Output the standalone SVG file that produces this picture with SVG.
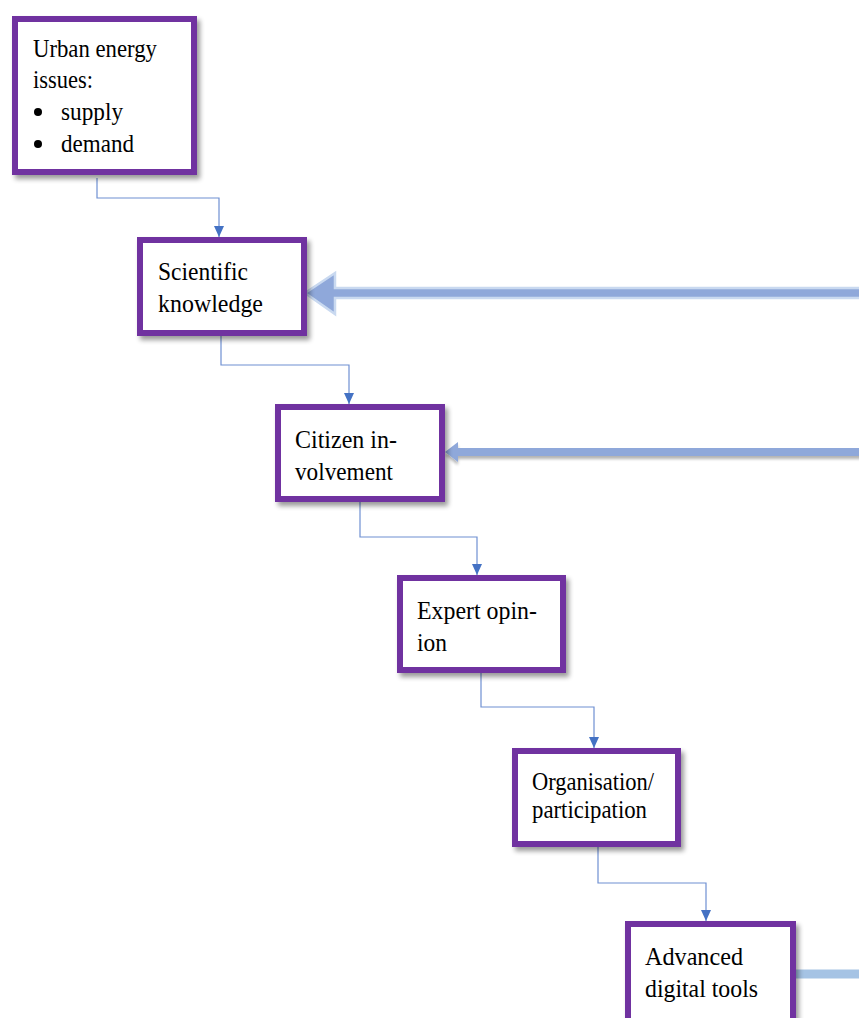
<svg xmlns="http://www.w3.org/2000/svg" width="859" height="1018" viewBox="0 0 859 1018">
<style>
.box{fill:#ffffff;stroke:#7030A0;stroke-width:6;filter:url(#sh)}
.t{font-family:"Liberation Serif","Times New Roman",Times,serif;font-size:26px;fill:#000}
.c{fill:none;stroke:#6F90D2;stroke-width:1.2;marker-end:url(#ah)}
.big{fill:#8FA8DA}
</style>
<defs>
<filter id="sh" x="-10%" y="-10%" width="130%" height="130%">
<feGaussianBlur in="SourceAlpha" stdDeviation="2.5"/>
<feOffset dx="3" dy="4" result="b"/>
<feComponentTransfer><feFuncA type="linear" slope="0.4"/></feComponentTransfer>
<feMerge><feMergeNode/><feMergeNode in="SourceGraphic"/></feMerge>
</filter>
<filter id="sh2" x="-5%" y="-50%" width="110%" height="250%">
<feGaussianBlur in="SourceAlpha" stdDeviation="1.5"/>
<feOffset dx="0" dy="3" result="b"/>
<feComponentTransfer><feFuncA type="linear" slope="0.3"/></feComponentTransfer>
<feMerge><feMergeNode/><feMergeNode in="SourceGraphic"/></feMerge>
</filter>
<marker id="ah" markerUnits="userSpaceOnUse" markerWidth="12" markerHeight="12" viewBox="0 0 12 12" refX="11" refY="6" orient="auto">
<path d="M0,1 L11,6 L0,11 Z" fill="#4472C4"/>
</marker>
</defs>

<g id="connectors">
<path class="c" d="M97 178 V198 H219 V237"/>
<path class="c" d="M221 336 V365 H349 V404"/>
<path class="c" d="M360 502 V537 H477 V575"/>
<path class="c" d="M481 673 V707 H594 V748"/>
<path class="c" d="M598 847 V883 H706 V921"/>
<g id="arrow-science">
<path d="M305 293 L335 273 L335 288 L862 288 L862 298 L335 298 L335 314 Z" class="big" stroke="#C9D9F0" stroke-width="2.5" stroke-linejoin="miter"/>
</g>
<g id="arrow-citizen" filter="url(#sh2)">
<path d="M445 452 L458 442 L458 448 L862 448 L862 456 L458 456 L458 462 Z" class="big"/>
</g>
<rect id="arrow-digital" x="796" y="969.5" width="66" height="9" fill="#A5C3E4"/>
</g>

<g id="n1">
<rect class="box" x="15" y="19" width="179" height="153"/>
<text class="t"><tspan x="33" y="57" textLength="124" lengthAdjust="spacingAndGlyphs">Urban energy</tspan><tspan x="33" y="88" textLength="60" lengthAdjust="spacingAndGlyphs">issues:</tspan><tspan x="61" y="120" textLength="62" lengthAdjust="spacingAndGlyphs">supply</tspan><tspan x="61" y="152" textLength="73" lengthAdjust="spacingAndGlyphs">demand</tspan></text>
<circle cx="38" cy="112" r="4" fill="#000"/>
<circle cx="38" cy="144" r="4" fill="#000"/>
</g>

<g id="n2">
<rect class="box" x="140" y="240" width="164" height="93"/>
<text class="t"><tspan x="158" y="280" textLength="90" lengthAdjust="spacingAndGlyphs">Scientific</tspan><tspan x="158" y="312" textLength="105" lengthAdjust="spacingAndGlyphs">knowledge</tspan></text>
</g>

<g id="n3">
<rect class="box" x="278" y="407" width="164" height="92"/>
<text class="t"><tspan x="295" y="448" textLength="102" lengthAdjust="spacingAndGlyphs">Citizen in-</tspan><tspan x="295" y="480" textLength="98" lengthAdjust="spacingAndGlyphs">volvement</tspan></text>
</g>

<g id="n4">
<rect class="box" x="400" y="578" width="163" height="92"/>
<text class="t"><tspan x="417" y="619" textLength="120" lengthAdjust="spacingAndGlyphs">Expert opin-</tspan><tspan x="417" y="651" textLength="30" lengthAdjust="spacingAndGlyphs">ion</tspan></text>
</g>

<g id="n5">
<rect class="box" x="515" y="751" width="163" height="93"/>
<text class="t"><tspan x="532" y="790" textLength="122" lengthAdjust="spacingAndGlyphs">Organisation/</tspan><tspan x="532" y="818" textLength="115" lengthAdjust="spacingAndGlyphs">participation</tspan></text>
</g>

<g id="n6">
<rect class="box" x="628" y="924" width="165" height="110"/>
<text class="t"><tspan x="645" y="965" textLength="98" lengthAdjust="spacingAndGlyphs">Advanced</tspan><tspan x="645" y="997" textLength="113" lengthAdjust="spacingAndGlyphs">digital tools</tspan></text>
</g>
</svg>
